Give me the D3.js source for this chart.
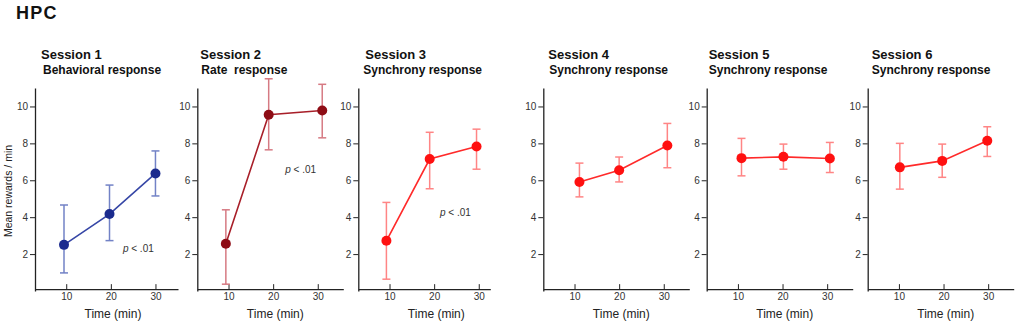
<!DOCTYPE html>
<meta charset="utf-8">
<script src="https://d3js.org/d3.v7.min.js"></script>
<style>
  body { margin: 0; background: #fff; }
  svg { font-family: Arial, "Liberation Sans", Helvetica, sans-serif; }
  .axis path, .axis line { stroke: #222; }
  .axis text { fill: #333; font-size: 10px; }
</style>
<div id="chart"></div>
<script>

// ---- data ----
var sessions  = ["Session 1", "Session 2", "Session 3", "Session 4", "Session 5", "Session 6"];
var responses = ["Behavioral response", "Rate  response", "Synchrony response",
                 "Synchrony response", "Synchrony response", "Synchrony response"];

// time (min) of each point, as placed in the figure
var times = [
  [9.5, 19.7, 30.0],
  [9.4, 19.0, 31.0],
  [9.3, 19.0, 29.5],
  [11.1, 20.0, 30.8],
  [10.8, 20.2, 30.6],
  [10.2, 19.7, 29.8]
];
var means = [
  [2.50, 4.17, 6.37],
  [2.56, 9.55, 9.78],
  [2.72, 7.15, 7.83],
  [5.91, 6.54, 7.88],
  [7.20, 7.27, 7.18],
  [6.70, 7.05, 8.14]
];
var upper = [
  [4.66, 5.74, 7.59],
  [4.40, 11.5, 11.2],
  [4.80, 8.60, 8.77],
  [6.93, 7.26, 9.08],
  [8.27, 7.96, 8.05],
  [8.00, 7.96, 8.90]
];
var lower = [
  [0.98, 2.73, 5.15],
  [0.37, 7.65, 8.30],
  [0.64, 5.54, 6.60],
  [5.10, 5.91, 6.68],
  [6.24, 6.60, 6.42],
  [5.52, 6.16, 7.29]
];
// "p < .01" labels: [session index, time, value]
var pLabels = [[0, 22.7, 2.1], [1, 22.7, 6.4], [2, 21.3, 4.05]];

var xTicks = [10, 20, 30];
var yTicks = [2, 4, 6, 8, 10];

// ---- layout ----
var W = 1024, H = 333;
var panelLeft = [35, 197.3, 358.3, 543.3, 706.7, 867.7];
var axisLen   = [143, 146, 132, 146, 146, 146];
var titleDx   = [6, 3, 7, 5, 2, 4];
var subDx     = [8, 4, 5, 6, 2, 4];
var pxPerMin  = 145 / 32.5;

var palette = [
  {dot: "#1b2b8e", line: "#3646a6", err: "#7282c6"},
  {dot: "#8e0c15", line: "#a81f29", err: "#d67a83"},
  {dot: "#ff1010", line: "#ff2a2a", err: "#ff8585"},
  {dot: "#ff1010", line: "#ff2a2a", err: "#ff8585"},
  {dot: "#ff1010", line: "#ff2a2a", err: "#ff8585"},
  {dot: "#ff1010", line: "#ff2a2a", err: "#ff8585"}
];

var svg = d3.select("#chart").append("svg")
  .attr("width", W)
  .attr("height", H);

svg.append("text")
  .attr("x", 16).attr("y", 19)
  .attr("font-size", "18px")
  .attr("font-weight", "bold")
  .attr("letter-spacing", "1.2px")
  .attr("fill", "#111")
  .text("HPC");

var y = d3.scaleLinear().domain([0, 11]).range([291, 88]);

// y axis title (only on first panel)
svg.append("text")
  .attr("transform", "translate(12,191) rotate(-90)")
  .attr("text-anchor", "middle")
  .attr("font-size", "10.5px")
  .attr("fill", "#222")
  .text("Mean rewards / min");

sessions.forEach(function(name, i) {
  var g = svg.append("g").attr("transform", "translate(" + panelLeft[i] + ",0)");
  var x = d3.scaleLinear()
    .domain([3, 3 + axisLen[i] / pxPerMin])
    .range([0, axisLen[i]]);
  var col = palette[i];

  // titles
  g.append("text")
    .attr("x", titleDx[i]).attr("y", 59)
    .attr("font-size", "13px").attr("font-weight", "bold").attr("fill", "#111")
    .text(name);
  g.append("text")
    .attr("x", subDx[i]).attr("y", 74)
    .attr("font-size", "12px").attr("font-weight", "bold").attr("fill", "#111")
    .style("white-space", "pre")
    .text(responses[i]);

  // axes
  var yAxis = g.append("g").attr("class", "axis")
    .call(d3.axisLeft(y).tickValues(yTicks).tickSize(5).tickPadding(2).tickSizeOuter(0));
  yAxis.select(".domain").attr("stroke-width", 1.3);
  yAxis.selectAll(".tick line").attr("stroke", "#666");

  var xAxis = g.append("g").attr("class", "axis")
    .attr("transform", "translate(0," + y(0.1) + ")")
    .call(d3.axisBottom(x).tickValues(xTicks).tickSize(-5).tickPadding(4).tickSizeOuter(0));
  xAxis.select(".domain").attr("stroke-width", 1.3);
  xAxis.selectAll(".tick line").attr("stroke", "#666");

  g.append("text")
    .attr("x", 78).attr("y", 318)
    .attr("text-anchor", "middle")
    .attr("font-size", "12px").attr("fill", "#222")
    .text("Time (min)");

  var pts = times[i].map(function(t, j) {
    return {t: t, m: means[i][j], hi: upper[i][j], lo: lower[i][j]};
  });

  // error bars
  var eb = g.selectAll(".eb").data(pts).enter().append("g")
    .attr("stroke", col.err).attr("stroke-width", 1.5);
  eb.append("line")
    .attr("x1", function(d) { return x(d.t); })
    .attr("x2", function(d) { return x(d.t); })
    .attr("y1", function(d) { return y(d.hi); })
    .attr("y2", function(d) { return y(d.lo); });
  eb.append("line")
    .attr("x1", function(d) { return x(d.t) - 4; })
    .attr("x2", function(d) { return x(d.t) + 4; })
    .attr("y1", function(d) { return y(d.hi); })
    .attr("y2", function(d) { return y(d.hi); });
  eb.append("line")
    .attr("x1", function(d) { return x(d.t) - 4; })
    .attr("x2", function(d) { return x(d.t) + 4; })
    .attr("y1", function(d) { return y(d.lo); })
    .attr("y2", function(d) { return y(d.lo); });

  // connecting line
  g.append("path")
    .datum(pts)
    .attr("fill", "none")
    .attr("stroke", col.line)
    .attr("stroke-width", 1.6)
    .attr("d", d3.line()
      .x(function(d) { return x(d.t); })
      .y(function(d) { return y(d.m); }));

  // points
  g.selectAll(".dot").data(pts).enter().append("circle")
    .attr("cx", function(d) { return x(d.t); })
    .attr("cy", function(d) { return y(d.m); })
    .attr("r", 5)
    .attr("fill", col.dot);

  // significance label
  pLabels.filter(function(p) { return p[0] === i; }).forEach(function(p) {
    var t = g.append("text")
      .attr("x", x(p[1])).attr("y", y(p[2]))
      .attr("font-size", "10px").attr("fill", "#333");
    t.append("tspan").attr("font-style", "italic").text("p");
    t.append("tspan").text(" < .01");
  });
});

</script>
